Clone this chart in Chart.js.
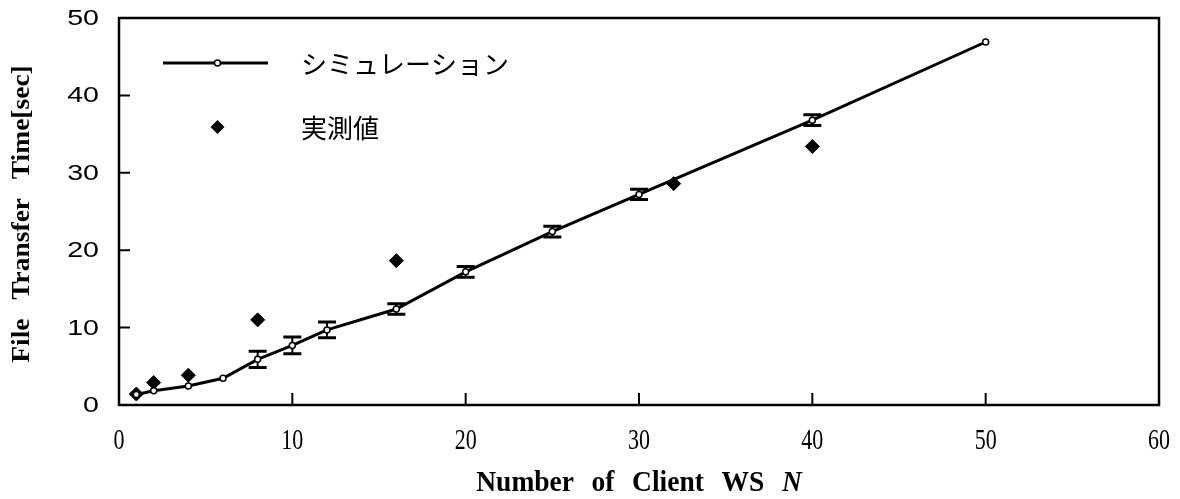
<!DOCTYPE html>
<html>
<head>
<meta charset="utf-8">
<script src="https://cdn.jsdelivr.net/npm/chart.js@4/dist/chart.umd.min.js"></script>
<style>
  html, body { margin: 0; padding: 0; background: #fff; }
  #wrap { width: 1180px; height: 499px; }
</style>
</head>
<body>
<div id="wrap"><canvas id="c" width="1180" height="499"></canvas></div>
<script>
// Simulation: number of client workstations vs. mean transfer time, with spread
const simN    = [1, 2, 4, 6, 8, 10, 12, 16, 20, 25, 30, 40, 50];
const simTime = [1.35, 1.85, 2.45, 3.45, 5.9, 7.7, 9.7, 12.4, 17.2, 22.4, 27.2, 36.8, 46.9];
const simErr  = [0, 0, 0, 0, 1.05, 1.07, 1.02, 0.69, 0.69, 0.71, 0.66, 0.69, 0];

// Measured values
const measN    = [1, 2, 4, 8, 16, 32, 40];
const measTime = [1.42, 2.9, 3.85, 11.0, 18.65, 28.6, 33.4];

// Axis tick values
const xTicks = [0, 10, 20, 30, 40, 50, 60];
const yTicks = [0, 10, 20, 30, 40, 50];

const seriesNames = ['シミュレーション', '実測値'];
const xTitleWords = ['Number', 'of', 'Client', 'WS', 'N'];
const yTitleWords = ['File', 'Transfer', 'Time[sec]'];

const simPoints = simN.map((n, i) => ({ x: n, y: simTime[i] }));
const measPoints = measN.map((n, i) => ({ x: n, y: measTime[i] }));

const INK = '#000';
const SERIF = '"Liberation Serif", "Times New Roman", serif';
const SANS = '"Liberation Sans", Arial, sans-serif';

// Vertical error bars with flat caps, drawn beneath the line and markers
const errorBars = {
  id: 'errorBars',
  beforeDatasetsDraw(chart) {
    const { ctx, scales: { x, y } } = chart;
    ctx.save();
    ctx.strokeStyle = INK;
    simN.forEach((n, i) => {
      const e = simErr[i];
      if (!e) return;
      const px = x.getPixelForValue(n);
      const top = y.getPixelForValue(simTime[i] + e);
      const bot = y.getPixelForValue(simTime[i] - e);
      ctx.lineWidth = 2;
      ctx.beginPath();
      ctx.moveTo(px, top); ctx.lineTo(px, bot);
      ctx.stroke();
      ctx.lineWidth = 3;
      ctx.beginPath();
      ctx.moveTo(px - 9, top); ctx.lineTo(px + 9, top);
      ctx.moveTo(px - 9, bot); ctx.lineTo(px + 9, bot);
      ctx.stroke();
    });
    ctx.restore();
  }
};

// Draws words along a line with a fixed gap, stretched by (sx, sy)
function drawWords(ctx, words, fonts, cx, cy, gap, sx, sy) {
  const widths = words.map((w, i) => { ctx.font = fonts[i]; return ctx.measureText(w).width; });
  const total = widths.reduce((s, w) => s + w, 0) + gap * (words.length - 1);
  ctx.save();
  ctx.translate(cx, cy);
  ctx.scale(sx, sy);
  ctx.textAlign = 'left';
  ctx.textBaseline = 'middle';
  let pos = -total / 2;
  words.forEach((w, i) => {
    ctx.font = fonts[i];
    ctx.fillText(w, pos, 0);
    pos += widths[i] + gap;
  });
  ctx.restore();
}

// Closed frame around the plot with inward-pointing ticks, labels, titles and legend
const frame = {
  id: 'frame',
  afterDraw(chart) {
    const { ctx, chartArea: a, scales: { x, y } } = chart;
    ctx.save();
    ctx.strokeStyle = INK;
    ctx.fillStyle = INK;
    ctx.lineWidth = 2.5;
    ctx.strokeRect(a.left, a.top, a.right - a.left, a.bottom - a.top);

    ctx.lineWidth = 2;
    ctx.beginPath();
    xTicks.forEach((v, i) => {
      if (i === 0 || i === xTicks.length - 1) return;
      const px = x.getPixelForValue(v);
      ctx.moveTo(px, a.bottom); ctx.lineTo(px, a.bottom - 12);
    });
    yTicks.forEach((v, i) => {
      if (i === 0 || i === yTicks.length - 1) return;
      const py = y.getPixelForValue(v);
      ctx.moveTo(a.left, py); ctx.lineTo(a.left + 11, py);
    });
    ctx.stroke();

    // y tick labels
    yTicks.forEach(v => {
      const py = y.getPixelForValue(v);
      ctx.save();
      ctx.translate(a.left - 20, py);
      ctx.scale(1.3, 1);
      ctx.font = '22px ' + SANS;
      ctx.textAlign = 'right';
      ctx.textBaseline = 'middle';
      ctx.fillText(String(v), 0, 1);
      ctx.restore();
    });

    // x tick labels
    xTicks.forEach(v => {
      const px = x.getPixelForValue(v);
      ctx.save();
      ctx.translate(px, 441);
      ctx.scale(1, 1.35);
      ctx.font = '22px ' + SERIF;
      ctx.textAlign = 'center';
      ctx.textBaseline = 'middle';
      ctx.fillText(String(v), 0, 0);
      ctx.restore();
    });

    // y-axis title
    ctx.save();
    ctx.translate(22, 214);
    ctx.rotate(-Math.PI / 2);
    const yf = 'bold 25px ' + SERIF;
    drawWords(ctx, yTitleWords, yTitleWords.map(() => yf), 0, 0, 17, 1.1, 1.05);
    ctx.restore();

    // x-axis title (variable name in italics)
    const xf = 'bold 25px ' + SERIF;
    const xfi = 'italic bold 25px ' + SERIF;
    drawWords(ctx, xTitleWords, xTitleWords.map((w, i) => i === xTitleWords.length - 1 ? xfi : xf),
      (a.left + a.right) / 2, 484, 16, 1.1, 1.15);

    // legend
    const ds0 = chart.data.datasets[0];
    const ds1 = chart.data.datasets[1];
    ctx.strokeStyle = ds0.borderColor;
    ctx.lineWidth = ds0.borderWidth;
    ctx.beginPath();
    ctx.moveTo(163, 63); ctx.lineTo(268, 63);
    ctx.stroke();
    ctx.beginPath();
    ctx.arc(217.5, 63, 3, 0, Math.PI * 2);
    ctx.fillStyle = ds0.pointBackgroundColor;
    ctx.fill();
    ctx.lineWidth = ds0.pointBorderWidth;
    ctx.strokeStyle = ds0.pointBorderColor;
    ctx.stroke();

    ctx.fillStyle = ds1.pointBackgroundColor;
    ctx.beginPath();
    const r = ds1.pointRadius;
    ctx.moveTo(217.5, 127 - r); ctx.lineTo(217.5 + r, 127);
    ctx.lineTo(217.5, 127 + r); ctx.lineTo(217.5 - r, 127);
    ctx.closePath();
    ctx.fill();

    ctx.fillStyle = INK;
    ctx.font = '26px "Noto Sans CJK JP", sans-serif';
    ctx.textAlign = 'left';
    ctx.textBaseline = 'middle';
    ctx.fillText(seriesNames[0], 301, 64);
    ctx.fillText(seriesNames[1], 301, 128);
    ctx.restore();
  }
};

new Chart(document.getElementById('c'), {
  type: 'scatter',
  data: {
    datasets: [
      {
        label: seriesNames[0],
        data: simPoints,
        showLine: true,
        borderColor: INK,
        borderWidth: 3,
        pointRadius: 3,
        pointBackgroundColor: '#fff',
        pointBorderColor: INK,
        pointBorderWidth: 1.5,
        tension: 0
      },
      {
        label: seriesNames[1],
        data: measPoints,
        showLine: false,
        pointStyle: 'rectRot',
        pointRadius: 7,
        pointBackgroundColor: INK,
        pointBorderColor: INK,
        pointBorderWidth: 1
      }
    ]
  },
  options: {
    responsive: false,
    animation: false,
    devicePixelRatio: 1,
    layout: { autoPadding: false, padding: { top: 18, right: 21, left: 0, bottom: 0 } },
    plugins: { legend: { display: false }, tooltip: { enabled: false } },
    scales: {
      x: {
        type: 'linear',
        min: 0, max: 60,
        afterFit(s) { s.height = 94; s.paddingLeft = 0; s.paddingRight = 0; },
        afterBuildTicks(s) { s.ticks = xTicks.map(v => ({ value: v })); },
        grid: { display: false, drawTicks: false },
        border: { display: false },
        ticks: { display: false }
      },
      y: {
        type: 'linear',
        min: 0, max: 50,
        afterFit(s) { s.width = 119; s.paddingTop = 0; s.paddingBottom = 0; },
        afterBuildTicks(s) { s.ticks = yTicks.map(v => ({ value: v })); },
        grid: { display: false, drawTicks: false },
        border: { display: false },
        ticks: { display: false }
      }
    }
  },
  plugins: [errorBars, frame]
});
</script>
</body>
</html>
